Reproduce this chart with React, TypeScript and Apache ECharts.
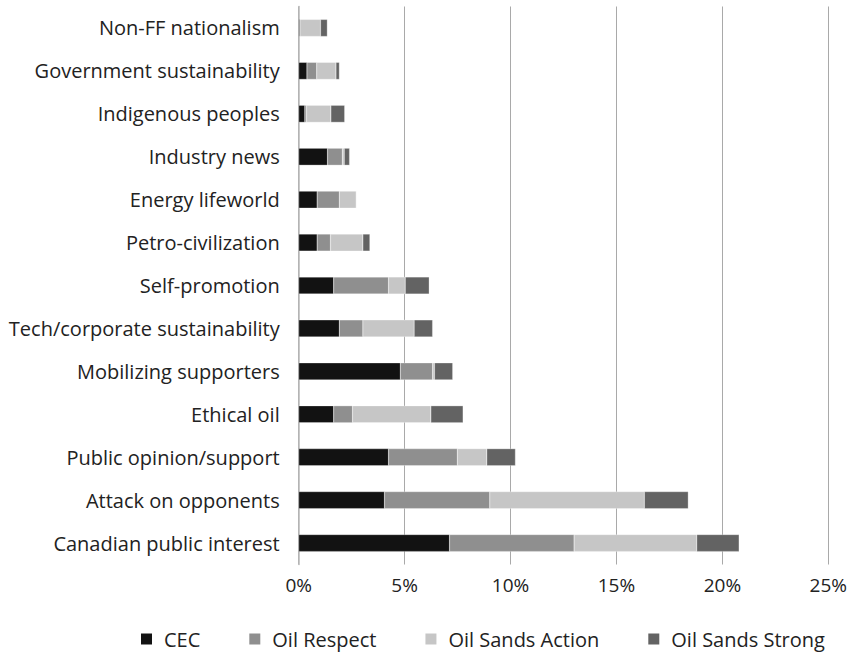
import React, { useEffect, useRef } from "react";
import * as echarts from "echarts";

const categories = [
  "Non-FF nationalism",
  "Government sustainability",
  "Indigenous peoples",
  "Industry news",
  "Energy lifeworld",
  "Petro-civilization",
  "Self-promotion",
  "Tech/corporate sustainability",
  "Mobilizing supporters",
  "Ethical oil",
  "Public opinion/support",
  "Attack on opponents",
  "Canadian public interest",
];

const cec = [0.06, 0.39, 0.29, 1.36, 0.87, 0.87, 1.65, 1.92, 4.8, 1.65, 4.24, 4.05, 7.12];
const oilRespect = [0.0, 0.46, 0.08, 0.7, 1.05, 0.63, 2.59, 1.11, 1.52, 0.89, 3.25, 4.97, 5.88];
const oilSandsAction = [0.97, 0.91, 1.15, 0.09, 0.8, 1.53, 0.79, 2.42, 0.09, 3.7, 1.39, 7.3, 5.79];
const oilSandsStrong = [0.32, 0.16, 0.65, 0.25, 0.0, 0.33, 1.13, 0.87, 0.86, 1.52, 1.35, 2.07, 2.0];

const seriesNames = ["CEC", "Oil Respect", "Oil Sands Action", "Oil Sands Strong"];
const seriesColors = ["#121212", "#8f8f8f", "#c6c6c6", "#636363"];
const xTicks = [0, 5, 10, 15, 20, 25];

const FONT = "'Open Sans', 'Noto Sans', sans-serif";

export default function App() {
  const ref = useRef<HTMLDivElement>(null);
  useEffect(() => {
    if (!ref.current) return;
    const chart = echarts.init(ref.current, null, { renderer: "svg" });
    const values = [cec, oilRespect, oilSandsAction, oilSandsStrong];
    chart.setOption({
      animation: false,
      textStyle: { fontFamily: FONT },
      grid: { left: 298.7, right: 12, top: 6.5, bottom: 89.5, containLabel: false },
      legend: {
        left: 134,
        top: 624,
        icon: "rect",
        itemWidth: 13,
        itemHeight: 13,
        itemGap: 47,
        textStyle: { fontSize: 20, color: "#222", fontFamily: FONT, padding: [0, 0, 0, 6] },
        data: seriesNames,
      },
      xAxis: {
        type: "value",
        min: xTicks[0],
        max: xTicks[xTicks.length - 1],
        interval: 5,
        axisLine: { show: false },
        axisTick: { show: false },
        splitLine: { show: true, lineStyle: { color: "#a9a9a9", width: 1 } },
        axisLabel: {
          formatter: "{value}%",
          fontSize: 19,
          color: "#222",
          margin: 11,
          fontFamily: FONT,
        },
      },
      yAxis: {
        type: "category",
        inverse: true,
        data: categories,
        axisLine: { show: true, lineStyle: { color: "#b8b8b8", width: 1.5 } },
        axisTick: { show: false },
        axisLabel: { fontSize: 20, color: "#222", margin: 19, fontFamily: FONT },
      },
      series: seriesNames.map((name, i) => ({
        name,
        type: "bar",
        stack: "total",
        barWidth: 17,
        data: values[i],
        itemStyle: { color: seriesColors[i], borderColor: "#ffffff", borderWidth: 0.3 },
      })),
    });
    return () => chart.dispose();
  }, []);
  return <div ref={ref} style={{ width: 850, height: 654, position: "absolute", left: 0, top: 0 }} />;
}
